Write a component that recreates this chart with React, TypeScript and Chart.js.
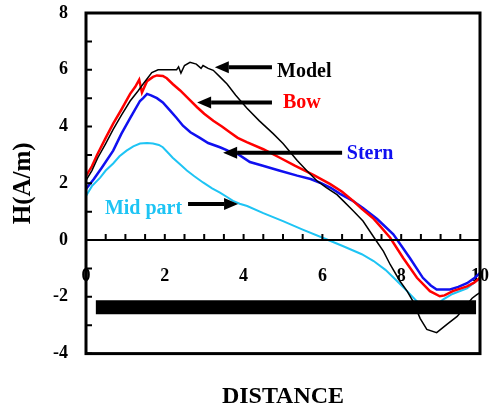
import React, { useEffect, useRef } from 'react';
import { Chart, registerables } from 'chart.js';

Chart.register(...registerables);

// ---- data ----
const modelX = [0, 0.15, 0.3, 0.5, 0.69, 0.9, 1.12, 1.32, 1.45, 1.67, 1.83, 2.0, 2.15, 2.3, 2.35, 2.41, 2.5, 2.64, 2.8, 2.92, 2.97, 3.1, 3.23, 3.4, 3.58, 3.8, 4.08, 4.4, 4.75, 5.0, 5.36, 5.6, 5.86, 6.1, 6.37, 6.53, 6.78, 7.03, 7.34, 7.55, 7.72, 7.97, 8.15, 8.3, 8.48, 8.65, 8.9, 9.16, 9.42, 9.67, 9.8, 9.92, 10];
const modelY = [2.1, 2.45, 2.9, 3.4, 3.9, 4.4, 4.9, 5.25, 5.5, 5.9, 6.0, 6.0, 6.0, 6.0, 6.1, 5.88, 6.15, 6.26, 6.2, 6.05, 6.15, 6.05, 5.98, 5.75, 5.5, 5.1, 4.65, 4.2, 3.75, 3.4, 2.8, 2.45, 2.09, 1.85, 1.6, 1.38, 1.03, 0.67, 0.03, -0.4, -0.86, -1.45, -1.8, -2.16, -2.76, -3.15, -3.26, -2.97, -2.69, -2.27, -2.05, -1.92, -1.85];

const bowX = [0, 0.15, 0.28, 0.5, 0.69, 0.9, 1.12, 1.25, 1.35, 1.42, 1.5, 1.55, 1.7, 1.8, 1.95, 2.05, 2.2, 2.39, 2.6, 2.82, 3.0, 3.23, 3.45, 3.65, 3.85, 4.08, 4.5, 4.92, 5.3, 5.77, 6.2, 6.5, 6.78, 7.0, 7.28, 7.46, 7.72, 8.05, 8.4, 8.73, 8.98, 9.1, 9.31, 9.67, 9.85, 10];
const bowY = [2.25, 2.6, 3.0, 3.6, 4.1, 4.6, 5.15, 5.4, 5.65, 5.2, 5.45, 5.6, 5.75, 5.8, 5.78, 5.7, 5.5, 5.27, 4.98, 4.68, 4.45, 4.2, 4.0, 3.8, 3.6, 3.45, 3.2, 2.9, 2.62, 2.3, 1.97, 1.7, 1.38, 1.1, 0.78, 0.5, 0.08, -0.63, -1.33, -1.8, -1.98, -1.95, -1.8, -1.63, -1.5, -1.33];

const sternX = [0, 0.2, 0.4, 0.69, 0.9, 1.12, 1.37, 1.45, 1.55, 1.65, 1.8, 1.95, 2.13, 2.3, 2.46, 2.65, 2.89, 3.1, 3.4, 3.6, 3.83, 4.16, 4.49, 4.9, 5.36, 5.7, 5.94, 6.2, 6.45, 6.75, 7.03, 7.39, 7.8, 8.22, 8.55, 8.75, 8.9, 9.24, 9.45, 9.67, 9.85, 10];
const sternY = [1.8, 2.15, 2.55, 3.15, 3.75, 4.3, 4.9, 5.0, 5.15, 5.1, 5.0, 4.85, 4.57, 4.3, 4.03, 3.8, 3.6, 3.42, 3.27, 3.15, 3.05, 2.75, 2.62, 2.45, 2.27, 2.15, 2.02, 1.85, 1.63, 1.4, 1.13, 0.74, 0.2, -0.63, -1.33, -1.6, -1.74, -1.74, -1.65, -1.52, -1.35, -1.16];

const midX = [0, 0.15, 0.36, 0.5, 0.69, 0.85, 1.03, 1.2, 1.37, 1.55, 1.7, 1.85, 1.95, 2.1, 2.2, 2.4, 2.56, 2.75, 2.97, 3.2, 3.4, 3.6, 3.73, 3.9, 4.09, 4.5, 5.0, 5.5, 6.1, 6.5, 7.0, 7.3, 7.6, 7.9, 8.15, 8.4, 8.6, 8.8, 9.06, 9.3, 9.67, 9.95, 10];
const midY = [1.55, 1.9, 2.2, 2.45, 2.7, 2.95, 3.15, 3.3, 3.4, 3.42, 3.4, 3.35, 3.27, 3.05, 2.9, 2.65, 2.45, 2.25, 2.03, 1.82, 1.67, 1.5, 1.38, 1.28, 1.2, 0.95, 0.67, 0.37, 0.03, -0.2, -0.5, -0.74, -1.05, -1.45, -1.8, -2.16, -2.35, -2.4, -2.1, -1.9, -1.7, -1.4, -1.35];

const barX = [0.25, 9.9];
const barY = [-2.37, -2.37];

const yTickValues = [-4, -3, -2, -1, 0, 1, 2, 3, 4, 5, 6, 7, 8];
const xMinorTicks = [0.5, 1, 1.5, 2, 2.5, 3, 3.5, 4, 4.5, 5, 5.5, 6, 6.5, 7, 7.5, 8, 8.5, 9, 9.5];

const labelNames = ['Model', 'Bow', 'Stern', 'Mid part'];

// ---- annotation layout (data units) ----
const annotations = [
  { text: labelNames[0], color: '#000000', tx: 4.85, ty: 5.73, tail: [4.72, 6.09], tip: [3.27, 6.09] },
  { text: labelNames[1], color: '#ff0000', tx: 5.0, ty: 4.64, tail: [4.72, 4.85], tip: [2.82, 4.85] },
  { text: labelNames[2], color: '#1010f0', tx: 6.62, ty: 2.87, tail: [6.5, 3.08], tip: [3.48, 3.08] },
  { text: labelNames[3], color: '#1ec4f4', tx: 0.48, ty: 0.92, tail: [2.59, 1.27], tip: [3.86, 1.27] },
];

const SERIF = '"Liberation Serif", "Times New Roman", serif';

const pts = (xs: number[], ys: number[]) => xs.map((x, i) => ({ x, y: ys[i] }));

const framePlugin = {
  id: 'framePlugin',
  afterDatasetsDraw(chart: any) {
    const { ctx, chartArea, scales } = chart;
    const xs = scales.x;
    const ys = scales.y;
    const { left, right, top, bottom } = chartArea;
    ctx.save();
    ctx.strokeStyle = '#000';
    ctx.lineWidth = 3;
    ctx.strokeRect(left, top, right - left, bottom - top);
    const y0 = ys.getPixelForValue(0);
    ctx.lineWidth = 2;
    ctx.beginPath();
    ctx.moveTo(left, y0);
    ctx.lineTo(right, y0);
    ctx.stroke();
    ctx.beginPath();
    yTickValues.forEach((v) => {
      const py = ys.getPixelForValue(v);
      ctx.moveTo(left, py);
      ctx.lineTo(left + 6, py);
    });
    xMinorTicks.forEach((v) => {
      const px = xs.getPixelForValue(v);
      ctx.moveTo(px, y0);
      ctx.lineTo(px, y0 - 6);
    });
    ctx.stroke();

    annotations.forEach((a) => {
      const x1 = xs.getPixelForValue(a.tail[0]);
      const y1 = ys.getPixelForValue(a.tail[1]);
      const x2 = xs.getPixelForValue(a.tip[0]);
      const y2 = ys.getPixelForValue(a.tip[1]);
      const ang = Math.atan2(y2 - y1, x2 - x1);
      const headLen = 14;
      const headHalf = 6;
      const bx = x2 - headLen * Math.cos(ang);
      const by = y2 - headLen * Math.sin(ang);
      ctx.strokeStyle = '#000';
      ctx.fillStyle = '#000';
      ctx.lineWidth = 4;
      ctx.lineCap = 'butt';
      ctx.beginPath();
      ctx.moveTo(x1, y1);
      ctx.lineTo(bx, by);
      ctx.stroke();
      ctx.beginPath();
      ctx.moveTo(x2, y2);
      ctx.lineTo(bx + headHalf * Math.sin(ang), by - headHalf * Math.cos(ang));
      ctx.lineTo(bx - headHalf * Math.sin(ang), by + headHalf * Math.cos(ang));
      ctx.closePath();
      ctx.fill();

      ctx.font = `bold 20px ${SERIF}`;
      ctx.fillStyle = a.color;
      ctx.textAlign = 'left';
      ctx.textBaseline = 'alphabetic';
      ctx.fillText(a.text, xs.getPixelForValue(a.tx), ys.getPixelForValue(a.ty));
    });
    ctx.restore();
  },
};

export default function App() {
  const canvasRef = useRef<HTMLCanvasElement | null>(null);

  useEffect(() => {
    document.body.style.margin = '0';
    const canvas = canvasRef.current;
    if (!canvas) return;
    const chart = new Chart(canvas, {
      type: 'line',
      data: {
        datasets: [
          { label: 'bar', data: pts(barX, barY), borderColor: '#000000', borderWidth: 14, borderCapStyle: 'butt', pointRadius: 0, order: 0 },
          { label: labelNames[0], data: pts(modelX, modelY), borderColor: '#000000', borderWidth: 1.5, pointRadius: 0, order: 1 },
          { label: labelNames[1], data: pts(bowX, bowY), borderColor: '#ff0000', borderWidth: 2.5, pointRadius: 0, order: 2 },
          { label: labelNames[2], data: pts(sternX, sternY), borderColor: '#1010f0', borderWidth: 2.5, pointRadius: 0, order: 3 },
          { label: labelNames[3], data: pts(midX, midY), borderColor: '#1ec4f4', borderWidth: 2, pointRadius: 0, order: 4 },
        ],
      },
      options: {
        animation: false,
        responsive: false,
        devicePixelRatio: 1,
        layout: { autoPadding: false, padding: { left: 0, top: 13, right: 12, bottom: 0 } },
        plugins: {
          legend: { display: false },
          tooltip: { enabled: false },
          title: {
            display: true,
            text: 'DISTANCE',
            position: 'bottom',
            fullSize: false,
            color: '#000',
            font: { family: SERIF, size: 24, weight: 'bold' },
            padding: { top: 28.6, bottom: 1 },
          },
        },
        scales: {
          x: {
            type: 'linear',
            min: 0,
            max: 10,
            position: { y: 0 },
            grid: { display: false, drawTicks: false, tickLength: 0 },
            border: { display: false },
            afterFit: (scale: any) => {
              scale.paddingLeft = 0;
              scale.paddingRight = 0;
              scale.paddingTop = 0;
              scale.paddingBottom = 0;
            },
            ticks: {
              stepSize: 2,
              padding: 25,
              color: '#000',
              font: { family: SERIF, size: 18, weight: 'bold' },
              maxRotation: 0,
            },
          },
          y: {
            type: 'linear',
            min: -4,
            max: 8,
            grid: { display: false, drawTicks: false, tickLength: 0 },
            border: { display: false },
            afterFit: (scale: any) => {
              scale.width = 86;
              scale.paddingLeft = 0;
              scale.paddingRight = 0;
              scale.paddingTop = 0;
              scale.paddingBottom = 0;
            },
            ticks: {
              stepSize: 1,
              padding: 18,
              color: '#000',
              font: { family: SERIF, size: 18, weight: 'bold' },
              callback: (v: any) => (Number(v) % 2 === 0 ? String(v) : ''),
            },
            title: {
              display: true,
              text: 'H(A/m)',
              color: '#000',
              font: { family: SERIF, size: 25, weight: 'bold' },
              padding: { top: 9, bottom: 0 },
            },
          },
        },
      } as any,
      plugins: [framePlugin],
    });
    return () => chart.destroy();
  }, []);

  return (
    <div style={{ width: 492, height: 412 }}>
      <canvas ref={canvasRef} width={492} height={412} />
    </div>
  );
}
